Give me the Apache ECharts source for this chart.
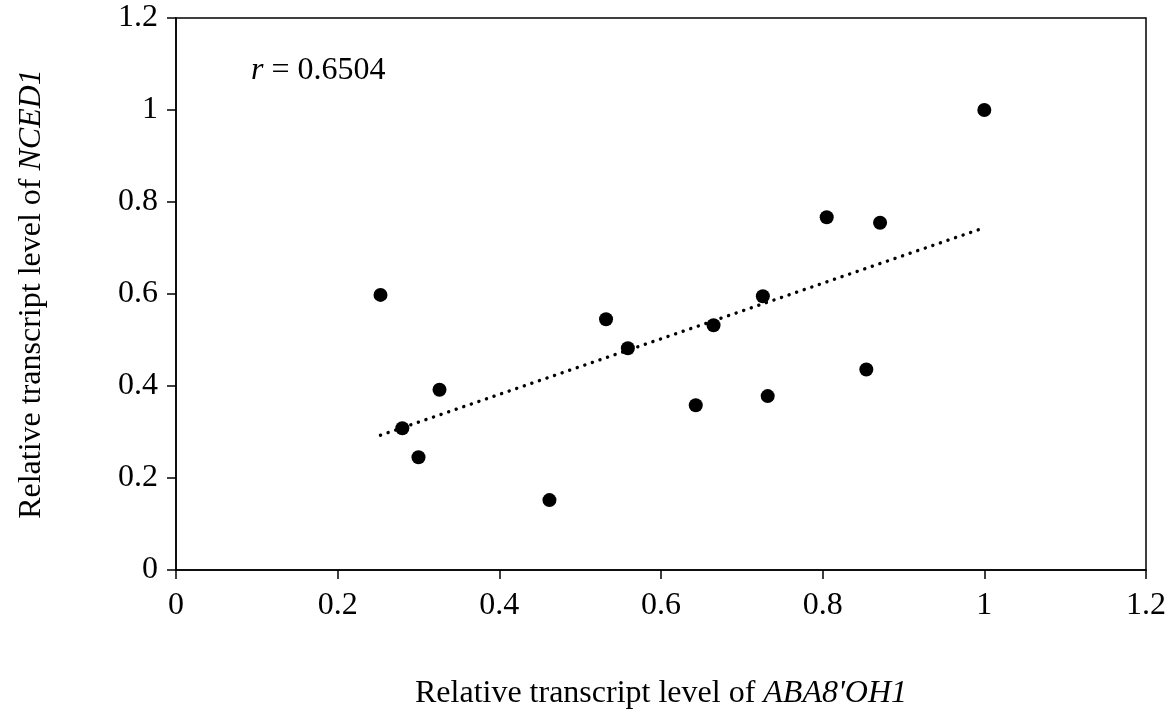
<!DOCTYPE html>
<html>
<head>
<meta charset="utf-8">
<script src="https://cdn.jsdelivr.net/npm/echarts@6/dist/echarts.min.js"></script>
<style>
  html, body { margin: 0; padding: 0; background: #fff; }
  #chart { width: 1170px; height: 715px; }
</style>
</head>
<body>
<div id="chart"></div>
<script>
// Relative transcript levels: ABA8'OH1 (x) against NCED1 (y)
const abaLevels = [0.253, 0.280, 0.300, 0.326, 0.462, 0.532, 0.559, 0.643, 0.665, 0.726, 0.732, 0.805, 0.854, 0.871, 1.000];
const ncedLevels = [0.598, 0.308, 0.245, 0.392, 0.152, 0.545, 0.482, 0.358, 0.532, 0.595, 0.378, 0.767, 0.436, 0.755, 1.000];
const correlationLabel = '0.6504';

const axisMin = 0;
const axisMax = 1.2;
const axisStep = 0.2;

// Least-squares fit drawn as the dotted trend line over the data range
function linearFit(xs, ys) {
  const n = xs.length;
  const mx = xs.reduce((a, b) => a + b, 0) / n;
  const my = ys.reduce((a, b) => a + b, 0) / n;
  let sxy = 0, sxx = 0;
  for (let i = 0; i < n; i++) {
    sxy += (xs[i] - mx) * (ys[i] - my);
    sxx += (xs[i] - mx) * (xs[i] - mx);
  }
  const slope = sxy / sxx;
  return { slope, intercept: my - slope * mx };
}
const fit = linearFit(abaLevels, ncedLevels);
const xLo = Math.min(...abaLevels);
const xHi = Math.max(...abaLevels);
const trendPoints = [
  [xLo, fit.intercept + fit.slope * xLo],
  [xHi, fit.intercept + fit.slope * xHi]
];
const scatterPoints = abaLevels.map((x, i) => [x, ncedLevels[i]]);

const FONT = '"Liberation Serif", "Times New Roman", serif';
const FS = 32;
const tickLabel = v => (Math.abs(v) < 1e-9 ? '0' : String(Math.round(v * 10) / 10));

const axisCommon = {
  min: axisMin,
  max: axisMax,
  interval: axisStep,
  splitLine: { show: false },
  axisLine: { show: true, onZero: false, lineStyle: { color: '#000', width: 1.5 } },
  axisTick: { show: true, inside: false, length: 9, lineStyle: { color: '#000', width: 1.5 } },
  nameLocation: 'middle',
  nameTextStyle: {
    fontFamily: FONT, fontSize: FS, color: '#000',
    rich: { i: { fontFamily: FONT, fontSize: FS, fontStyle: 'italic', color: '#000' } }
  }
};

const chart = echarts.init(document.getElementById('chart'), null, { renderer: 'canvas' });
chart.setOption({
  backgroundColor: '#fff',
  animation: false,
  grid: {
    left: 176, right: 24, top: 18, bottom: 142,
    show: true, borderColor: '#000', borderWidth: 1.5, backgroundColor: 'transparent'
  },
  xAxis: Object.assign({}, axisCommon, {
    type: 'value',
    name: "Relative transcript level of {i|ABA8'OH1}",
    nameGap: 108,
    axisLabel: { margin: 20, fontFamily: FONT, fontSize: FS, color: '#000', formatter: tickLabel }
  }),
  yAxis: Object.assign({}, axisCommon, {
    type: 'value',
    name: 'Relative transcript level of {i|NCED1}',
    nameRotate: 90,
    nameGap: 128,
    axisLabel: { margin: 18, fontFamily: FONT, fontSize: FS, color: '#000', formatter: tickLabel }
  }),
  graphic: [{
    type: 'text',
    left: 251,
    top: 55,
    style: {
      text: '{i|r} = ' + correlationLabel,
      font: FS + 'px ' + FONT,
      fill: '#000',
      rich: { i: { fontFamily: FONT, fontSize: FS, fontStyle: 'italic', fill: '#000' } }
    }
  }],
  series: [
    {
      type: 'line',
      data: trendPoints,
      symbol: 'none',
      silent: true,
      z: 1,
      lineStyle: { color: '#000', width: 3.4, type: [0.1, 7.9], cap: 'round' }
    },
    {
      type: 'scatter',
      data: scatterPoints,
      symbol: 'circle',
      symbolSize: 14,
      z: 2,
      itemStyle: { color: '#000', opacity: 1 }
    }
  ]
});
</script>
</body>
</html>
